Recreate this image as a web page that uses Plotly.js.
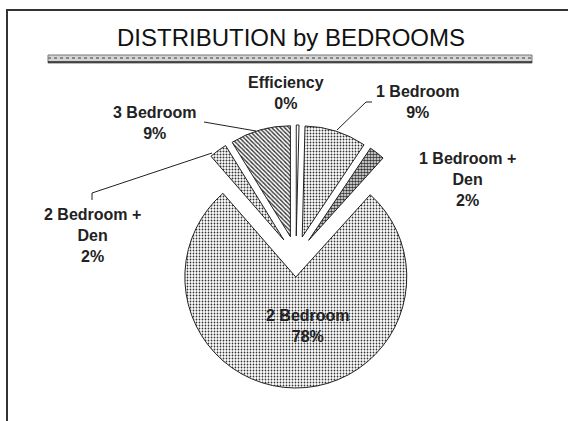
<!DOCTYPE html>
<html>
<head>
<meta charset="utf-8">
<script src="https://cdn.plot.ly/plotly-3.0.1.min.js"></script>
<style>html,body{margin:0;padding:0;background:#fff;}#chart{width:568px;height:421px;}</style>
</head>
<body>
<div id="chart"></div>
<script>
// ---- data ----
const categories = ['Efficiency', '1 Bedroom', '1 Bedroom + Den', '2 Bedroom', '2 Bedroom + Den', '3 Bedroom'];
const shares = [0.4, 9.0, 2.3, 76.9, 2.6, 8.8];
const pctLabels = ['0%', '9%', '2%', '78%', '2%', '9%'];
const chartTitle = 'DISTRIBUTION by BEDROOMS';

// ---- helpers ----
const W = 568, H = 421;
const px = x => x / W;
const py = y => 1 - y / H;

const patternShapes = ['', '.', '.', '.', '.', '\\'];
const patternSizes = [6, 3, 3, 3, 3, 3];
const patternSolid = [0.1, 0.3, 0.6, 0.28, 0.35, 0.45];

const pie = {
  type: 'pie',
  labels: categories,
  values: shares,
  sort: false,
  direction: 'clockwise',
  rotation: 0,
  pull: 0.185,
  textinfo: 'none',
  hoverinfo: 'label+percent',
  domain: {x: [164.5 / W, 427.5 / W], y: [1 - 388 / H, 1 - 125 / H]},
  marker: {
    colors: categories.map(() => '#ffffff'),
    line: {color: '#222', width: 1},
    pattern: {
      shape: patternShapes,
      size: patternSizes,
      solidity: patternSolid,
      fgcolor: '#333',
      bgcolor: '#ffffff'
    }
  },
  showlegend: false
};

// label positions (center x, center y) in pixels
const labelPos = [[286, 93.5], [418, 102], [467, 179.5], [308, 326], [92, 235.5], [155, 123]];
const annotations = categories.map((c, i) => ({
  text: c.replace(' + Den', ' +<br>Den') + '<br>' + pctLabels[i],
  xref: 'paper', yref: 'paper',
  x: px(labelPos[i][0]), y: py(labelPos[i][1]),
  xanchor: 'center', yanchor: 'middle', align: 'center',
  showarrow: false,
  font: {family: 'Arial, Liberation Sans, sans-serif', size: 16, color: '#222', weight: 'bold'}
}));

const line = (pts, color, width, dash) => ({
  type: 'path', xref: 'paper', yref: 'paper',
  path: pts.map((p, i) => (i ? 'L' : 'M') + px(p[0]) + ',' + py(p[1])).join(' '),
  line: {color: color, width: width, dash: dash || 'solid'}
});

const shapes = [
  // frame
  line([[7, 421], [7, 10], [568, 10]], '#333', 2),
  // title underline band
  {type: 'rect', xref: 'paper', yref: 'paper', x0: px(48), x1: px(532), y0: py(63), y1: py(55),
   fillcolor: '#d4d4d4', line: {color: '#777', width: 1}},
  line([[48, 58], [532, 58]], '#888', 2, 'dot'),
  line([[48, 62], [532, 62]], '#222', 1.5),
  // leader lines
  line([[204, 122], [256, 131]], '#222', 1),
  line([[372, 102], [366, 102], [337, 130]], '#222', 1),
  line([[92, 200], [92, 193], [212, 153]], '#222', 1)
];

const layout = {
  width: W, height: H,
  margin: {l: 0, r: 0, t: 0, b: 0},
  paper_bgcolor: '#fff',
  plot_bgcolor: '#fff',
  title: {
    text: chartTitle,
    x: px(291), xanchor: 'center', xref: 'paper',
    y: py(38), yanchor: 'middle', yref: 'paper',
    font: {family: 'Arial, Liberation Sans, sans-serif', size: 24, color: '#111'}
  },
  annotations: annotations,
  shapes: shapes
};

Plotly.newPlot('chart', [pie], layout, {displayModeBar: false, staticPlot: true});
</script>
</body>
</html>
